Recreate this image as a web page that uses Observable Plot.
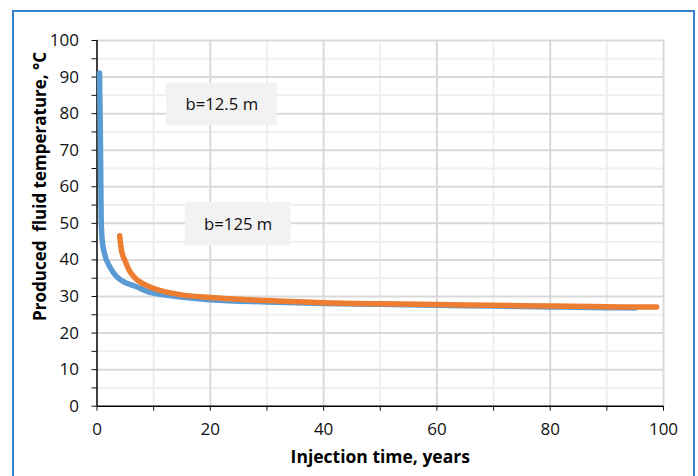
<!DOCTYPE html>
<html>
<head>
<meta charset="utf-8">
<script src="https://cdn.jsdelivr.net/npm/d3@7"></script>
<script src="https://cdn.jsdelivr.net/npm/@observablehq/plot@0.6"></script>
<style>
  html, body { margin: 0; padding: 0; background: #fff; }
  #wrap { position: relative; width: 698px; height: 476px; overflow: hidden; }
  #border { position: absolute; left: 12px; top: 10px; width: 679px; height: 480px;
            border: 2px solid #3583cf; pointer-events: none; }
</style>
</head>
<body>
<div id="wrap"><div id="border"></div></div>
<script>
// Series b = 12.5 m (blue)
const blueX = [0.44, 0.6, 0.7, 0.74, 0.92, 1.32, 2.26, 3.56, 4.73, 6.79, 8.85, 12.4, 20, 30, 40, 50, 60, 70, 80, 90, 95];
const blueY = [91.1, 72.8, 56.4, 50.9, 45.4, 41.75, 38.1, 35.3, 34.0, 32.8, 31.4, 30.3, 29.1, 28.5, 28.1, 27.85, 27.6, 27.4, 27.15, 26.95, 26.85];
// Series b = 125 m (orange)
const orangeX = [4.0, 4.3, 5.0, 5.6, 6.5, 8.0, 9.7, 14.7, 20, 30, 40, 50, 60, 70, 80, 90, 98.8];
const orangeY = [46.6, 42.8, 39.6, 37.4, 35.4, 33.6, 32.4, 30.5, 29.7, 28.9, 28.3, 28.0, 27.8, 27.6, 27.4, 27.2, 27.1];

const xTicks = [0, 10, 20, 30, 40, 50, 60, 70, 80, 90, 100];
const yTicks = [0, 5, 10, 15, 20, 25, 30, 35, 40, 45, 50, 55, 60, 65, 70, 75, 80, 85, 90, 95, 100];
const xLabel = "Injection time, years";
const yLabel = "Produced  fluid temperature, °C";

const annoText = ["b=12.5 m", "b=125 m"];
const annoX1 = [12.26, 15.6];
const annoX2 = [31.8, 34.25];
const annoY1 = [76.7, 43.8];
const annoY2 = [88.3, 55.7];

const blue = blueX.map((x, i) => ({x, y: blueY[i]}));
const orange = orangeX.map((x, i) => ({x, y: orangeY[i]}));
const annos = annoText.map((t, i) => ({t, x1: annoX1[i], x2: annoX2[i], y1: annoY1[i], y2: annoY2[i]}));

const xMajorGrid = xTicks.filter(d => d % 20 === 0 && d > 0);
const xMinorGrid = xTicks.filter(d => d % 20 !== 0);
const yMajorGrid = yTicks.filter(d => d % 10 === 0 && d > 0);
const yMinorGrid = yTicks.filter(d => d % 10 !== 0);

const font = "'Open Sans', sans-serif";

const chart = Plot.plot({
  width: 698,
  height: 476,
  marginLeft: 96.5,
  marginRight: 35,
  marginTop: 40,
  marginBottom: 70.3,
  style: { fontFamily: font, fontSize: "17px", color: "#111", background: "transparent" },
  x: { domain: [0, 100] },
  y: { domain: [0, 100] },
  marks: [
    Plot.ruleX(xMinorGrid, { stroke: "#efefef", strokeWidth: 2 }),
    Plot.ruleY(yMinorGrid, { stroke: "#efefef", strokeWidth: 2 }),
    Plot.ruleX(xMajorGrid, { stroke: "#d9d9d9", strokeWidth: 2 }),
    Plot.ruleY(yMajorGrid, { stroke: "#d9d9d9", strokeWidth: 2 }),
    Plot.rect(annos, { x1: "x1", x2: "x2", y1: "y1", y2: "y2", fill: "#f2f2f2" }),
    Plot.text(annos, { x: d => (d.x1 + d.x2) / 2, y: d => (d.y1 + d.y2) / 2, text: "t",
      fontSize: 16.7, fill: "#111" }),
    Plot.axisX({ ticks: xTicks, tickSize: 5, tickPadding: 12, tickFormat: d => d % 20 === 0 ? d : "",
      label: null, fontSize: 17 }),
    Plot.axisY({ ticks: yTicks, tickSize: 5, tickPadding: 13, tickFormat: d => d % 10 === 0 ? d : "",
      label: null, fontSize: 17 }),
    Plot.ruleX([0], { stroke: "#000", strokeWidth: 1.5 }),
    Plot.ruleY([0], { stroke: "#000", strokeWidth: 1.5 }),
    Plot.line(blue, { x: "x", y: "y", stroke: "#5b9bd5", strokeWidth: 5.5, curve: "monotone-x",
      strokeLinecap: "round", strokeLinejoin: "round" }),
    Plot.line(orange, { x: "x", y: "y", stroke: "#ed7d31", strokeWidth: 5.5, curve: "monotone-x",
      strokeLinecap: "round", strokeLinejoin: "round" }),
    Plot.text([xLabel], { frameAnchor: "bottom", dy: 57, text: d => d, fontWeight: "bold",
      fontSize: 17.5, fill: "#000" }),
    Plot.text([yLabel], { frameAnchor: "left", dx: -56, dy: -37, rotate: -90, text: d => d,
      textAnchor: "middle", lineAnchor: "middle",
      fontWeight: "bold", fontSize: 17, fill: "#000" })
  ]
});
document.getElementById("wrap").insertBefore(chart, document.getElementById("border"));
</script>
</body>
</html>
